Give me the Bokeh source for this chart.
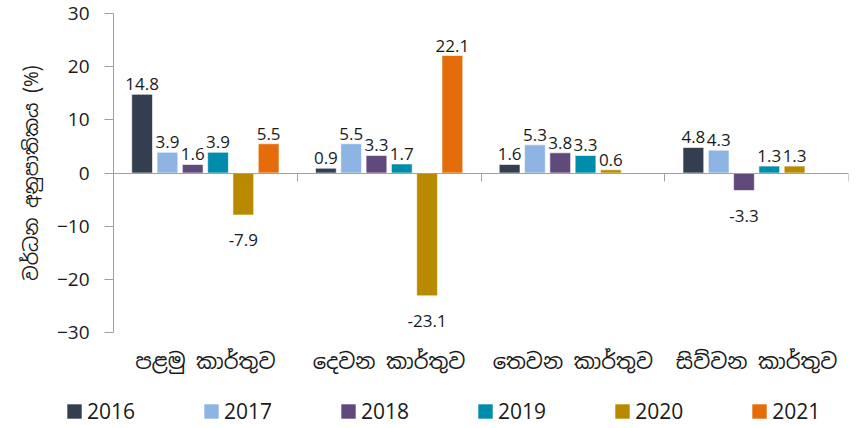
import numpy as np
from bokeh.plotting import figure
from bokeh.layouts import column
from bokeh.models import (Range1d, FixedTicker, LinearAxis, ColumnDataSource,
                          LabelSet, Legend, LegendItem)
from bokeh.core.properties import value
from bokeh.transform import dodge
from bokeh.embed import file_html
from bokeh.resources import INLINE

quarters = ["පළමු කාර්තුව", "දෙවන කාර්තුව", "තෙවන කාර්තුව", "සිව්වන කාර්තුව"]
years = ["2016", "2017", "2018", "2019", "2020", "2021"]
v2016 = [14.8, 0.9, 1.6, 4.8]
v2017 = [3.9, 5.5, 5.3, 4.3]
v2018 = [1.6, 3.3, 3.8, -3.3]
v2019 = [3.9, 1.7, 3.3, 1.3]
v2020 = [-7.9, -23.1, 0.6, 1.3]
v2021 = [5.5, 22.1, None, None]
series = [v2016, v2017, v2018, v2019, v2020, v2021]
colors = ["#333F50", "#8EB4E3", "#604A7B", "#008CAB", "#B98A00", "#E46C0A"]
y_ticks = [-30, -20, -10, 0, 10, 20, 30]
y_title = "වර්ධන අනුපාතිකය (%)"

FONT = "Open Sans"
SIFONT = "Noto Sans Sinhala, Noto Sans, sans-serif"
TXT = "#1a1a1a"
AXC = "#A0A0A0"

p = figure(width=856, height=392, output_backend="svg", toolbar_location=None,
           x_range=Range1d(0, len(quarters)), y_range=Range1d(y_ticks[0], y_ticks[-1]),
           min_border_left=113, min_border_right=8, min_border_top=13,
           min_border_bottom=60, outline_line_color=None, tools="")
p.xgrid.visible = False
p.ygrid.visible = False
p.xaxis.visible = False
p.yaxis.visible = False

# y axis
ya = LinearAxis(ticker=FixedTicker(ticks=y_ticks), axis_label=y_title)
ya.axis_line_color = AXC
ya.major_tick_line_color = AXC
ya.major_tick_out = 9
ya.major_tick_in = 0
ya.minor_tick_line_color = None
ya.major_label_text_font = FONT
ya.major_label_text_font_size = "19px"
ya.major_label_text_color = TXT
ya.major_label_standoff = 15
ya.axis_label_text_font = SIFONT
ya.axis_label_text_font_size = "19px"
ya.axis_label_text_font_style = "normal"
ya.axis_label_text_color = TXT
ya.axis_label_standoff = 10
p.add_layout(ya, "left")

# category labels axis
centers = [i + 0.5 for i in range(len(quarters))]
xa = LinearAxis(ticker=FixedTicker(ticks=centers))
xa.major_label_overrides = {c: q for c, q in zip(centers, quarters)}
xa.axis_line_color = None
xa.major_tick_line_color = None
xa.major_tick_out = 0
xa.major_tick_in = 0
xa.minor_tick_line_color = None
xa.major_label_standoff = 15
xa.major_label_text_font = SIFONT
xa.major_label_text_font_size = "21px"
xa.major_label_text_color = TXT
p.add_layout(xa, "below")

# zero line axis with category separators
bounds = list(range(len(quarters) + 1))
za = LinearAxis(ticker=FixedTicker(ticks=bounds), fixed_location=0)
za.major_label_overrides = {b: "" for b in bounds}
za.axis_line_color = AXC
za.major_tick_line_color = AXC
za.major_tick_out = 8
za.major_tick_in = 0
za.minor_tick_line_color = None
za.major_label_standoff = 0
p.add_layout(za, "below")

# legend strip (separate figure below the chart)
leg = figure(width=856, height=36, output_backend="svg", toolbar_location=None,
             x_range=Range1d(0, len(quarters)), y_range=Range1d(1000, 1001),
             min_border=0, outline_line_color=None, tools="")
leg.xaxis.visible = False
leg.yaxis.visible = False
leg.xgrid.visible = False
leg.ygrid.visible = False
try:
    leg.frame_align = False
    p.frame_align = False
except Exception:
    pass

slot = 0.1377
bw = 0.113
items = []
pos_x, pos_y, pos_t = [], [], []
neg_x, neg_y, neg_t = [], [], []
for j, (yr, vals, col) in enumerate(zip(years, series, colors)):
    top = [np.nan if v is None else v for v in vals]
    src = ColumnDataSource(dict(x=centers, top=top))
    off = (j - (len(years) - 1) / 2) * slot
    p.vbar(x=dodge("x", off, range=p.x_range), top="top", bottom=0, width=bw, source=src,
           fill_color=col, line_color="white", line_alpha=0.6, line_width=1)
    lr = leg.vbar(x="x", top="top", bottom=0, width=bw, source=src,
                  fill_color=col, line_color=None)
    items.append(LegendItem(label=yr, renderers=[lr]))
    for c, v in zip(centers, vals):
        if v is None:
            continue
        if v >= 0:
            pos_x.append(c + off); pos_y.append(v); pos_t.append(f"{v:.1f}")
        else:
            neg_x.append(c + off); neg_y.append(v); neg_t.append(f"{v:.1f}")

pos_src = ColumnDataSource(dict(x=pos_x, y=pos_y, t=pos_t))
neg_src = ColumnDataSource(dict(x=neg_x, y=neg_y, t=neg_t))
p.add_layout(LabelSet(x="x", y="y", text="t", source=pos_src, text_align="center",
                      text_baseline="bottom", y_offset=4, text_font=value(FONT),
                      text_font_size="17px", text_color=TXT))
p.add_layout(LabelSet(x="x", y="y", text="t", source=neg_src, text_align="center",
                      text_baseline="top", y_offset=-19, text_font=value(FONT),
                      text_font_size="17px", text_color=TXT))

legend = Legend(items=items, orientation="horizontal", location=(65, 3),
                glyph_width=18, glyph_height=18, label_standoff=4, spacing=67,
                padding=0, margin=0, border_line_color=None, background_fill_alpha=0,
                label_text_font=FONT, label_text_font_size="21px", label_text_color=TXT)
leg.add_layout(legend, "center")

open("out.html", "w").write(file_html(column(p, leg, spacing=0), INLINE))
